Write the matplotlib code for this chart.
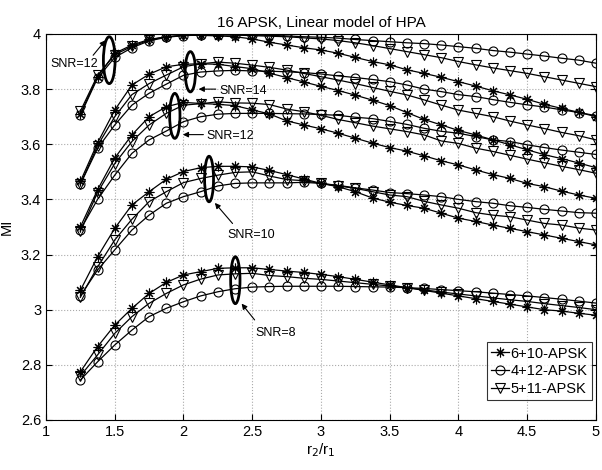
import numpy as np
import matplotlib
matplotlib.use("Agg")
import matplotlib.pyplot as plt
from matplotlib.patches import Ellipse

plt.rcParams['font.family'] = ['Liberation Sans', 'DejaVu Sans']

# x values r2/r1
r_ratio = [1.25, 1.375, 1.5, 1.625, 1.75, 1.875, 2.0, 2.125, 2.25, 2.375, 2.5,
           2.625, 2.75, 2.875, 3.0, 3.125, 3.25, 3.375, 3.5, 3.625, 3.75,
           3.875, 4.0, 4.125, 4.25, 4.375, 4.5, 4.625, 4.75, 4.875, 5.0]

series_names = ['6+10-APSK', '4+12-APSK', '5+11-APSK']

# Top group
top_6_10 = [3.71, 3.845, 3.93, 3.96, 3.98, 3.99, 3.995, 3.995, 3.993, 3.99, 3.982,
            3.97, 3.96, 3.95, 3.942, 3.93, 3.915, 3.90, 3.888, 3.870, 3.857,
            3.843, 3.827, 3.811, 3.794, 3.779, 3.763, 3.745, 3.73, 3.716, 3.70]
top_4_12 = [3.705, 3.84, 3.915, 3.95, 3.975, 3.988, 3.994, 3.996, 3.997, 3.997, 3.996,
            3.995, 3.993, 3.99, 3.988, 3.985, 3.98, 3.976, 3.972, 3.968, 3.965,
            3.96, 3.954, 3.948, 3.94, 3.934, 3.927, 3.92, 3.912, 3.905, 3.894]
top_5_11 = [3.72, 3.85, 3.925, 3.955, 3.978, 3.99, 3.995, 3.997, 3.997, 3.996, 3.994,
            3.992, 3.99, 3.986, 3.982, 3.976, 3.968, 3.958, 3.947, 3.936, 3.925,
            3.914, 3.90, 3.888, 3.877, 3.867, 3.857, 3.845, 3.833, 3.821, 3.809]

# SNR = 14
snr14_6_10 = [3.465, 3.605, 3.724, 3.815, 3.854, 3.881, 3.89, 3.892, 3.89, 3.882, 3.874,
              3.858, 3.842, 3.826, 3.81, 3.795, 3.778, 3.76, 3.74, 3.715, 3.69,
              3.67, 3.65, 3.634, 3.616, 3.598, 3.58, 3.562, 3.548, 3.532, 3.515]
snr14_4_12 = [3.455, 3.585, 3.67, 3.742, 3.785, 3.818, 3.85, 3.862, 3.866, 3.868, 3.866,
              3.865, 3.863, 3.86, 3.855, 3.848, 3.842, 3.835, 3.827, 3.815, 3.80,
              3.791, 3.78, 3.773, 3.762, 3.752, 3.743, 3.735, 3.725, 3.715, 3.704]
snr14_5_11 = [3.455, 3.595, 3.70, 3.78, 3.82, 3.851, 3.881, 3.892, 3.898, 3.894, 3.887,
              3.879, 3.869, 3.857, 3.845, 3.833, 3.82, 3.806, 3.792, 3.779, 3.761,
              3.742, 3.724, 3.712, 3.70, 3.684, 3.67, 3.657, 3.643, 3.631, 3.616]

# SNR = 12
snr12_6_10 = [3.30, 3.435, 3.55, 3.634, 3.70, 3.736, 3.752, 3.748, 3.745, 3.74, 3.725,
              3.71, 3.685, 3.67, 3.656, 3.64, 3.622, 3.604, 3.588, 3.575, 3.558,
              3.54, 3.525, 3.507, 3.49, 3.476, 3.458, 3.446, 3.43, 3.416, 3.404]
snr12_4_12 = [3.29, 3.40, 3.488, 3.567, 3.616, 3.648, 3.682, 3.70, 3.709, 3.712, 3.712,
              3.712, 3.711, 3.71, 3.708, 3.705, 3.698, 3.693, 3.683, 3.672, 3.658,
              3.647, 3.64, 3.628, 3.616, 3.61, 3.598, 3.588, 3.579, 3.571, 3.563]
snr12_5_11 = [3.285, 3.425, 3.53, 3.61, 3.67, 3.712, 3.742, 3.747, 3.754, 3.75, 3.749,
              3.744, 3.728, 3.718, 3.705, 3.69, 3.678, 3.666, 3.656, 3.646, 3.634,
              3.612, 3.603, 3.586, 3.574, 3.56, 3.546, 3.533, 3.52, 3.508, 3.495]

# SNR = 10
snr10_6_10 = [3.07, 3.192, 3.295, 3.38, 3.428, 3.473, 3.501, 3.515, 3.52, 3.52, 3.518,
              3.505, 3.49, 3.474, 3.458, 3.446, 3.428, 3.405, 3.39, 3.378, 3.368,
              3.35, 3.332, 3.32, 3.307, 3.295, 3.283, 3.271, 3.259, 3.247, 3.235]
snr10_4_12 = [3.05, 3.144, 3.217, 3.289, 3.343, 3.386, 3.41, 3.428, 3.449, 3.458, 3.46,
              3.46, 3.46, 3.462, 3.458, 3.451, 3.442, 3.434, 3.425, 3.421, 3.416,
              3.41, 3.40, 3.392, 3.386, 3.377, 3.371, 3.364, 3.358, 3.352, 3.35]
snr10_5_11 = [3.045, 3.155, 3.253, 3.328, 3.392, 3.428, 3.461, 3.476, 3.488, 3.498, 3.50,
              3.485, 3.472, 3.468, 3.458, 3.449, 3.44, 3.428, 3.416, 3.41, 3.393,
              3.38, 3.368, 3.352, 3.343, 3.337, 3.325, 3.313, 3.307, 3.296, 3.289]

# SNR = 8
snr8_6_10 = [2.775, 2.866, 2.944, 3.005, 3.059, 3.099, 3.126, 3.138, 3.15, 3.152, 3.152,
             3.146, 3.14, 3.135, 3.128, 3.12, 3.11, 3.10, 3.09, 3.08, 3.07,
             3.06, 3.05, 3.04, 3.03, 3.02, 3.01, 3.00, 2.995, 2.987, 2.98]
snr8_4_12 = [2.745, 2.811, 2.872, 2.926, 2.975, 3.005, 3.029, 3.05, 3.065, 3.076, 3.082,
             3.084, 3.085, 3.085, 3.085, 3.085, 3.084, 3.083, 3.082, 3.08, 3.077,
             3.073, 3.069, 3.065, 3.06, 3.055, 3.05, 3.044, 3.038, 3.031, 3.024]
snr8_5_11 = [2.76, 2.836, 2.914, 2.975, 3.023, 3.059, 3.09, 3.111, 3.126, 3.13, 3.132,
             3.124, 3.12, 3.114, 3.11, 3.104, 3.098, 3.092, 3.086, 3.08, 3.072,
             3.064, 3.057, 3.05, 3.043, 3.036, 3.03, 3.022, 3.015, 3.008, 3.0]

groups = [
    (top_6_10, top_4_12, top_5_11),
    (snr14_6_10, snr14_4_12, snr14_5_11),
    (snr12_6_10, snr12_4_12, snr12_5_11),
    (snr10_6_10, snr10_4_12, snr10_5_11),
    (snr8_6_10, snr8_4_12, snr8_5_11),
]

x_ticks = [1, 1.5, 2, 2.5, 3, 3.5, 4, 4.5, 5]
x_tick_labels = ['1', '1.5', '2', '2.5', '3', '3.5', '4', '4.5', '5']
y_ticks = [2.6, 2.8, 3.0, 3.2, 3.4, 3.6, 3.8, 4.0]
y_tick_labels = ['2.6', '2.8', '3', '3.2', '3.4', '3.6', '3.8', '4']

# annotations: label, ellipse center, width, height, text pos, arrow tail, arrow head
annotations = [
    ('SNR=12', (1.46, 3.905), 0.085, 0.17, (1.03, 3.89), (1.33, 3.915), (1.445, 3.985)),
    ('SNR=14', (2.05, 3.863), 0.075, 0.146, (2.26, 3.795), (2.255, 3.80), (2.09, 3.80)),
    ('SNR=12', (1.937, 3.703), 0.075, 0.163, (2.17, 3.63), (2.165, 3.635), (1.975, 3.635)),
    ('SNR=10', (2.186, 3.474), 0.065, 0.165, (2.32, 3.27), (2.37, 3.305), (2.215, 3.395)),
    ('SNR=8', (2.377, 3.107), 0.068, 0.17, (2.52, 2.915), (2.53, 2.955), (2.41, 3.03)),
]

fig = plt.figure(figsize=(6.02, 4.70), dpi=100)
ax = fig.add_axes([0.0764, 0.1064, 0.9136, 0.8213])

markers = [(8, 2, 0), 'o', 'v']
msizes = [7, 6.5, 7]
for grp in groups:
    for vals, mk, ms in zip(grp, markers, msizes):
        ax.plot(r_ratio, vals, color='black', lw=0.9, marker=mk, ms=ms,
                mfc='none', mec='black', mew=0.8)

for lab, c, w, h, tpos, ahead_tail, ahead in annotations:
    ax.add_patch(Ellipse(c, w, h, fill=False, ec='black', lw=2.0, zorder=5))
    ax.annotate('', xy=ahead, xytext=ahead_tail,
                arrowprops=dict(arrowstyle='-|>', color='black', lw=0.8,
                                mutation_scale=8), zorder=5)
    ax.text(tpos[0], tpos[1], lab, fontsize=9, ha='left', va='center',
            color='black', zorder=6)

# legend
handles = []
for name, mk, ms in zip(series_names, markers, msizes):
    h, = ax.plot([], [], color='black', lw=0.9, marker=mk, ms=ms, mfc='none',
                 mec='black', mew=0.8, label=name)
    handles.append(h)
leg = ax.legend(handles=handles, loc='lower right', bbox_to_anchor=(1.0, 0.04),
                fontsize=10.5, frameon=True, fancybox=False, edgecolor='black',
                handlelength=1.2, handletextpad=0.1, borderpad=0.3,
                labelspacing=0.25, borderaxespad=0.3)
leg.get_frame().set_linewidth(0.8)

ax.set_xlim(1, 5)
ax.set_ylim(2.6, 4.0)
ax.set_xticks(x_ticks)
ax.set_xticklabels(x_tick_labels)
ax.set_yticks(y_ticks)
ax.set_yticklabels(y_tick_labels)
ax.tick_params(direction='in', top=True, right=True, labelsize=10.5, length=4)
ax.grid(True, linestyle=':', color='#aaaaaa', lw=0.8)
for sp in ax.spines.values():
    sp.set_linewidth(0.8)

ax.set_title('16 APSK, Linear model of HPA', fontsize=11, pad=5)
ax.set_xlabel('r$_2$/r$_1$', fontsize=11, labelpad=2)
ax.set_ylabel('MI', fontsize=10.5, labelpad=5)

fig.savefig('out.png', dpi=100)
